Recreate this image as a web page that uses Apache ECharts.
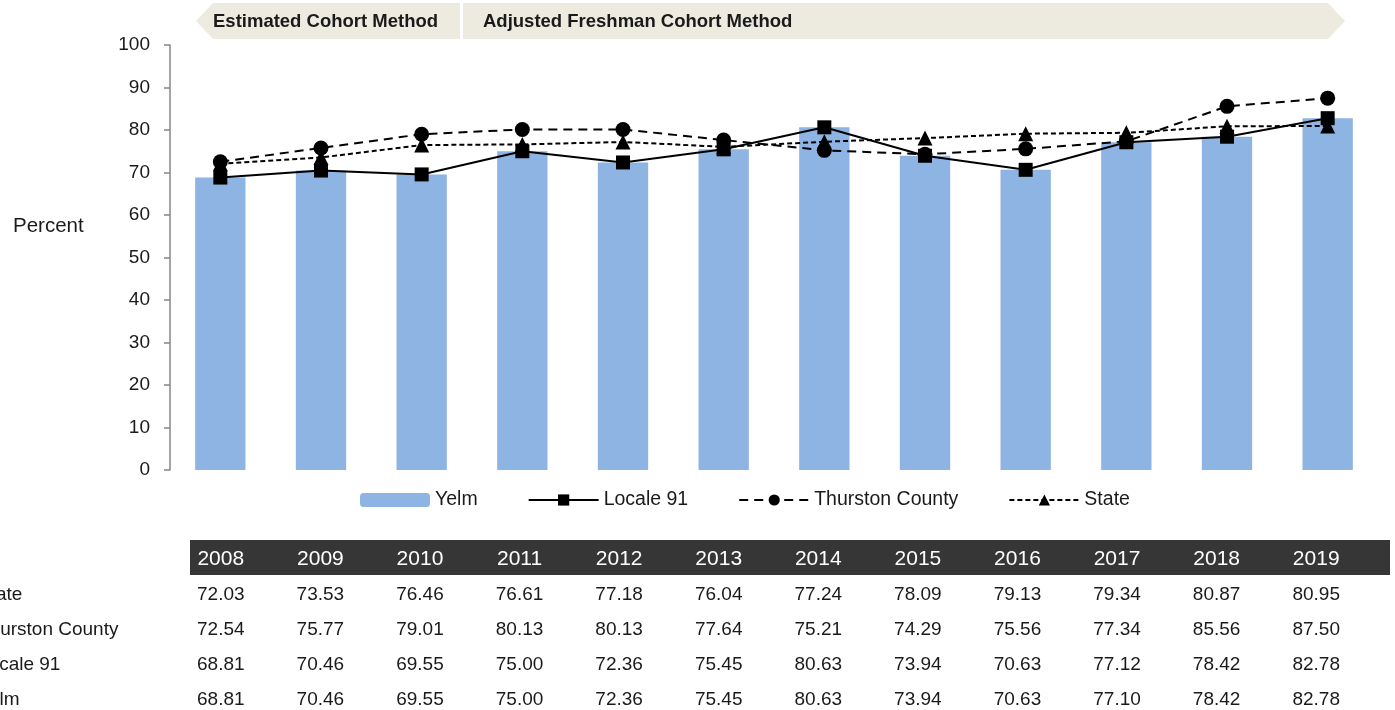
<!DOCTYPE html>
<html>
<head>
<meta charset="utf-8">
<script src="https://cdn.jsdelivr.net/npm/echarts@6/dist/echarts.min.js"></script>
<style>
  html, body { margin: 0; padding: 0; background: #fff; }
  #chart { width: 1395px; height: 710px; }
</style>
</head>
<body>
<div id="chart"></div>
<script>
const years = ["2008", "2009", "2010", "2011", "2012", "2013", "2014", "2015", "2016", "2017", "2018", "2019"];
const yelm = [68.81, 70.46, 69.55, 75.0, 72.36, 75.45, 80.63, 73.94, 70.63, 77.1, 78.42, 82.78];
const locale91 = [68.81, 70.46, 69.55, 75.0, 72.36, 75.45, 80.63, 73.94, 70.63, 77.12, 78.42, 82.78];
const thurston = [72.54, 75.77, 79.01, 80.13, 80.13, 77.64, 75.21, 74.29, 75.56, 77.34, 85.56, 87.5];
const state = [72.03, 73.53, 76.46, 76.61, 77.18, 76.04, 77.24, 78.09, 79.13, 79.34, 80.87, 80.95];
const tableRows = ["State", "Thurston County", "Locale 91", "Yelm"];
const yTicks = [0, 10, 20, 30, 40, 50, 60, 70, 80, 90, 100];

const font = "'Liberation Sans', Arial, sans-serif";
const ink = "#1a1a1a";

// table cells as [col, row, value]
const tableValues = [state, thurston, locale91, yelm];
let cells = [];
tableValues.forEach((arr, r) => {
  arr.forEach((v, c) => cells.push([c, r, v]));
});

let chart = echarts.init(document.getElementById("chart"));
let option = {
  animation: false,
  textStyle: { fontFamily: font },
  title: {
    text: "Percent",
    left: 8,
    top: 211,
    textStyle: { fontFamily: font, fontSize: 20.5, fontWeight: "normal", color: ink },
  },
  legend: {
    data: ["Yelm", "Locale 91", "Thurston County", "State"],
    left: 355,
    top: 485,
    itemWidth: 70,
    itemHeight: 14,
    itemGap: 50,
    textStyle: { fontSize: 19.5, color: ink, fontFamily: font },
  },
  graphic: [
    {
      type: "polygon",
      shape: { points: [[196, 21], [213, 3], [460, 3], [460, 39], [213, 39]] },
      style: { fill: "#EDEBE0" },
    },
    {
      type: "polygon",
      shape: { points: [[463, 3], [1328, 3], [1345, 21], [1328, 39], [463, 39]] },
      style: { fill: "#EDEBE0" },
    },
    {
      type: "text",
      left: 213,
      top: 12,
      style: { text: "Estimated Cohort Method", font: "bold 18.5px " + font, fill: ink },
    },
    {
      type: "text",
      left: 483,
      top: 12,
      style: { text: "Adjusted Freshman Cohort Method", font: "bold 18.5px " + font, fill: ink },
    },
    {
      type: "rect",
      shape: { x: 190, y: 540, width: 1200, height: 35 },
      style: { fill: "#363636" },
    },
  ],
  grid: [
    { left: 170, right: 17, top: 45, height: 425, outerBoundsMode: "none" },
    { left: 171, right: 29, top: 577, height: 140, outerBoundsMode: "none" },
  ],
  xAxis: [
    {
      type: "category",
      gridIndex: 0,
      data: years,
      axisLine: { show: false },
      axisTick: { show: false },
      axisLabel: { show: false },
    },
    {
      type: "category",
      gridIndex: 1,
      data: years,
      position: "top",
      z: 10,
      axisLine: { show: false },
      axisTick: { show: false },
      axisLabel: { color: "#fff", fontSize: 21, margin: 7, fontFamily: font },
    },
  ],
  yAxis: [
    {
      type: "value",
      gridIndex: 0,
      min: yTicks[0],
      max: yTicks[yTicks.length - 1],
      interval: 10,
      axisLine: { show: true, lineStyle: { color: "#868686", width: 1.5 } },
      axisTick: { show: true, length: 6, lineStyle: { color: "#868686", width: 1.5 } },
      splitLine: { show: false },
      axisLabel: { color: ink, fontSize: 19, margin: 20, fontFamily: font },
    },
    {
      type: "category",
      gridIndex: 1,
      inverse: true,
      data: tableRows,
      axisLine: { show: false },
      axisTick: { show: false },
      splitLine: { show: false },
      axisLabel: { color: ink, fontSize: 19, align: "left", margin: 193, fontFamily: font },
    },
  ],
  series: [
    {
      name: "Yelm",
      type: "bar",
      data: yelm,
      barWidth: "50%",
      itemStyle: { color: "#8EB4E3" },
      z: 1,
    },
    {
      name: "Locale 91",
      type: "line",
      data: locale91,
      symbol: "rect",
      symbolSize: 14,
      itemStyle: { color: "#000" },
      lineStyle: { color: "#000", width: 2 },
      z: 5,
    },
    {
      name: "Thurston County",
      type: "line",
      data: thurston,
      symbol: "circle",
      symbolSize: 15,
      itemStyle: { color: "#000" },
      lineStyle: { color: "#000", width: 2, type: [9, 6] },
      z: 4,
    },
    {
      name: "State",
      type: "line",
      data: state,
      symbol: "triangle",
      symbolSize: 15,
      itemStyle: { color: "#000" },
      lineStyle: { color: "#000", width: 2, type: [5, 3] },
      z: 3,
    },
    {
      name: "table",
      type: "scatter",
      xAxisIndex: 1,
      yAxisIndex: 1,
      data: cells,
      symbolSize: 0,
      silent: true,
      itemStyle: { opacity: 1 },
      label: {
        show: true,
        position: "inside",
        color: ink,
        fontSize: 19,
        fontFamily: font,
        formatter: (p) => p.value[2].toFixed(2),
      },
    },
  ],
};
option && chart.setOption(option);
</script>
</body>
</html>
